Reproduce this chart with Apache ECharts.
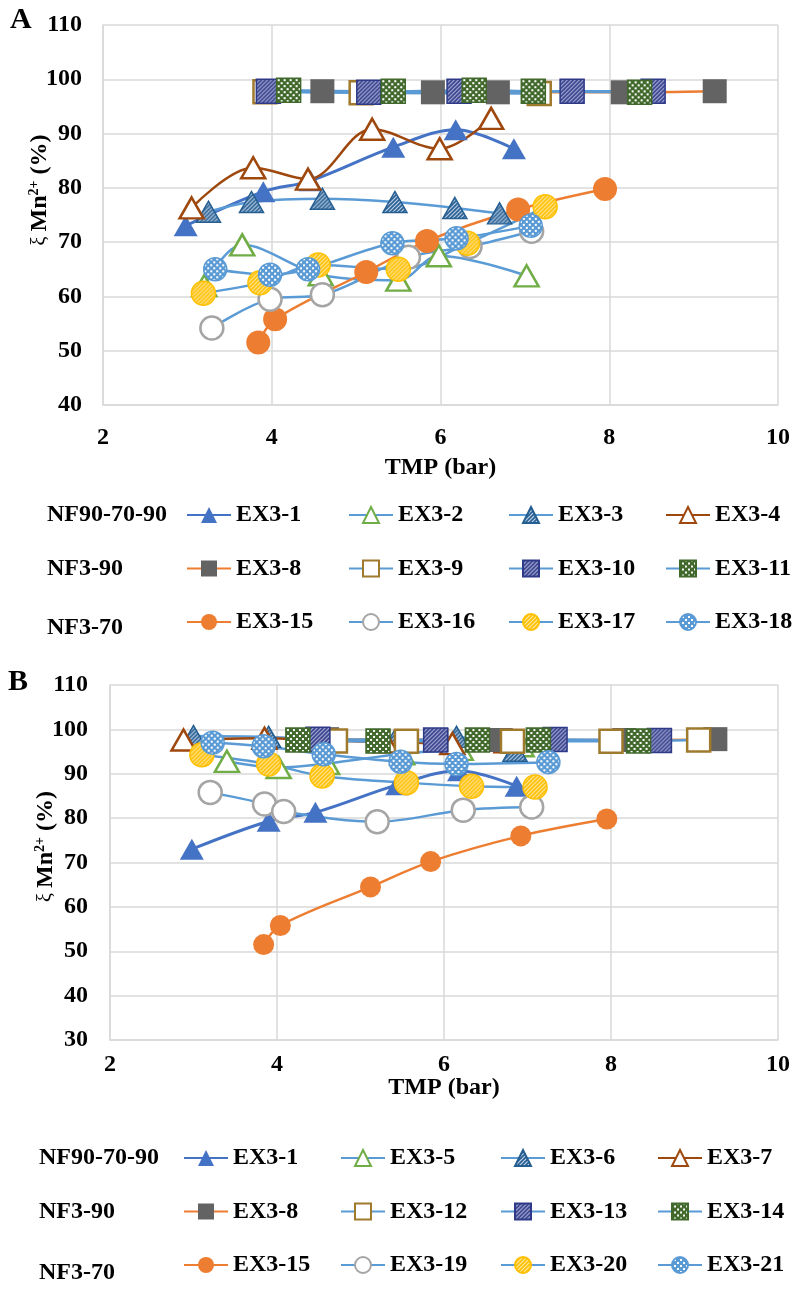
<!DOCTYPE html>
<html><head><meta charset="utf-8">
<script src="https://cdn.jsdelivr.net/npm/echarts@6/dist/echarts.min.js"></script>
<style>html,body{margin:0;padding:0;background:#fff}#c{width:805px;height:1297px}</style>
</head><body><div id="c"></div>
<script>
// ---------------- DATA (x = TMP in bar, y = ξ Mn2+ in %) ----------------
// shared series
const ex3_1_x  = [2.98, 3.90, 4.46, 5.44, 6.18, 6.87];
const ex3_1_y  = [73.0, 79.3, 81.3, 87.5, 90.7, 87.2];
const ex3_8_x  = [4.60, 5.91, 6.68, 8.16, 9.25];
const ex3_8_y  = [97.8, 97.6, 97.6, 97.6, 97.8];
const ex3_15_x = [3.84, 4.04, 5.12, 5.84, 6.92, 7.95];
const ex3_15_y = [51.5, 55.8, 64.5, 70.2, 76.0, 79.8];
// panel A
const ex3_2_x  = [3.20, 3.65, 4.58, 5.50, 5.98, 7.02];
const ex3_2_y  = [62.0, 69.5, 64.0, 63.0, 67.5, 63.8];
const ex3_3_x  = [3.25, 3.76, 4.60, 5.46, 6.17, 6.70];
const ex3_3_y  = [75.6, 77.4, 78.0, 77.4, 76.3, 75.3];
const ex3_4_x  = [3.05, 3.78, 4.43, 5.19, 5.99, 6.60];
const ex3_4_y  = [76.3, 83.7, 81.6, 90.8, 87.2, 92.8];
const ex3_9_x  = [3.92, 5.06, 7.17];
const ex3_9_y  = [97.7, 97.5, 97.4];
const ex3_10_x = [3.96, 5.15, 6.22, 7.56, 8.52];
const ex3_10_y = [97.8, 97.6, 97.8, 97.8, 97.8];
const ex3_11_x = [4.20, 5.44, 6.40, 7.10, 8.36];
const ex3_11_y = [98.0, 97.8, 98.0, 97.8, 97.6];
const ex3_16_x = [3.29, 3.98, 4.60, 5.62, 6.35, 7.08];
const ex3_16_y = [54.2, 59.5, 60.3, 67.2, 69.2, 72.0];
const ex3_17_x = [3.19, 3.86, 4.55, 5.50, 6.32, 7.24];
const ex3_17_y = [60.6, 62.5, 65.8, 65.0, 69.8, 76.5];
const ex3_18_x = [3.33, 3.98, 4.43, 5.43, 6.19, 7.07];
const ex3_18_y = [65.0, 64.0, 65.0, 69.8, 70.7, 73.0];
// panel B
const ex3_5_x  = [3.40, 4.02, 4.60, 5.50, 6.20, 6.93];
const ex3_5_y  = [92.8, 91.4, 92.3, 94.5, 95.5, 96.3];
const ex3_6_x  = [3.00, 3.90, 4.50, 5.40, 6.15, 6.85];
const ex3_6_y  = [98.5, 98.3, 97.8, 97.2, 98.3, 95.2];
const ex3_7_x  = [2.88, 3.85, 4.55, 5.30, 6.10, 6.75];
const ex3_7_y  = [97.6, 98.0, 97.5, 97.2, 96.8, 97.2];
const ex3_12_x = [4.70, 5.55, 6.82, 8.00, 9.05];
const ex3_12_y = [97.4, 97.3, 97.3, 97.3, 97.6];
const ex3_13_x = [4.49, 5.90, 7.33, 8.58];
const ex3_13_y = [97.8, 97.6, 97.7, 97.5];
const ex3_14_x = [4.25, 5.21, 6.40, 7.13, 8.33];
const ex3_14_y = [97.6, 97.4, 97.6, 97.6, 97.4];
const ex3_19_x = [3.20, 3.85, 4.08, 5.20, 6.23, 7.05];
const ex3_19_y = [85.8, 83.2, 81.5, 79.2, 81.8, 82.5];
const ex3_20_x = [3.10, 3.90, 4.54, 5.55, 6.33, 7.09];
const ex3_20_y = [94.3, 92.2, 89.5, 88.0, 87.2, 87.0];
const ex3_21_x = [3.23, 3.84, 4.56, 5.48, 6.15, 7.25];
const ex3_21_y = [97.0, 96.2, 94.4, 92.7, 92.2, 92.6];

const xTicks = {min: 2, max: 10, interval: 2};
const yTicksA = {min: 40, max: 110, interval: 10};
const yTicksB = {min: 30, max: 110, interval: 10};

const groupLabels = ['NF90-70-90', 'NF3-90', 'NF3-70'];
const legendColsA = [['EX3-1','EX3-8','EX3-15'], ['EX3-2','EX3-9','EX3-16'], ['EX3-3','EX3-10','EX3-17'], ['EX3-4','EX3-11','EX3-18']];
const legendColsB = [['EX3-1','EX3-8','EX3-15'], ['EX3-5','EX3-12','EX3-19'], ['EX3-6','EX3-13','EX3-20'], ['EX3-7','EX3-14','EX3-21']];

// ---------------- STYLES ----------------
const FONT = 'Liberation Serif';
const tileCache = {};
function tile(bg, fg, kind) {
  const key = bg + fg + kind;
  if (tileCache[key]) return tileCache[key];
  const c = document.createElement('canvas');
  const n = kind === 'dots' ? 6 : 4;
  c.width = c.height = n;
  const g = c.getContext('2d');
  g.fillStyle = bg; g.fillRect(0, 0, n, n);
  g.fillStyle = fg; g.strokeStyle = fg;
  if (kind === 'hatch') {
    g.lineWidth = 1.2;
    [[-1, n + 1, n + 1, -1], [-n - 1, n + 1, 1, -1], [n - 1, n + 1, 2 * n + 1, -1]].forEach(l => {
      g.beginPath(); g.moveTo(l[0], l[1]); g.lineTo(l[2], l[3]); g.stroke();
    });
  } else {
    g.fillRect(1, 1, 2, 2); g.fillRect(4, 4, 2, 2);
  }
  tileCache[key] = c;
  return c;
}
// pattern for a series symbol (symbol paths are drawn in a unit box scaled by size/2)
function patS(bg, fg, kind, size) {
  const s = Array.isArray(size) ? size : [size, size];
  return {image: tile(bg, fg, kind), repeat: 'repeat', scaleX: 2 / s[0], scaleY: 2 / s[1]};
}
function patL(bg, fg, kind) {
  return {image: tile(bg, fg, kind), repeat: 'repeat'};
}
const LB = '#5B9BD5';
const TRI = [24, 21];
function mk(symbol, size, fill, border, bw, line, lw) {
  // fill is either a colour string or [bg, fg, kind]
  const isPat = Array.isArray(fill);
  return {
    symbol: symbol, size: size, border: border, bw: bw, line: line, lw: lw,
    fill: isPat ? patS(fill[0], fill[1], fill[2], size) : fill,
    lfill: isPat ? patL(fill[0], fill[1], fill[2]) : fill
  };
}
const ST = {
  triFill:  mk('triangle', TRI, '#4472C4', '#4472C4', 0, '#4472C4', 3),
  triGreen: mk('triangle', TRI, '#ffffff', '#70AD47', 2.5, LB, 2.5),
  triHatch: mk('triangle', TRI, ['#255E91', '#C5D3EA', 'hatch'], '#255E91', 1.5, LB, 2.5),
  triBrown: mk('triangle', TRI, '#ffffff', '#9E480E', 2.5, '#9E480E', 2.5),
  sqGrey:   mk('rect', 24, '#636363', '#636363', 0, '#ED7D31', 2.5),
  sqGold:   mk('rect', 23, '#ffffff', '#A07A2C', 2.5, LB, 2.5),
  sqNavy:   mk('rect', 24, ['#2E3A87', '#B7B9DE', 'hatch'], '#2E3A87', 1.5, LB, 2.5),
  sqGreen:  mk('rect', 24, ['#41692C', '#ffffff', 'dots'], '#41692C', 1.5, LB, 2.5),
  ciOrange: mk('circle', 24, '#ED7D31', '#ED7D31', 0, '#ED7D31', 2.5),
  ciOrangeS: mk('circle', 21, '#ED7D31', '#ED7D31', 0, '#ED7D31', 2.5),
  ciGrey:   mk('circle', 23, '#ffffff', '#A5A5A5', 2.5, LB, 2.5),
  ciYellow: mk('circle', 24, ['#FFC000', '#FFE6A0', 'hatch'], '#FFC000', 1.5, LB, 2.5),
  ciBlue:   mk('circle', 23, ['#5B9BD5', '#ffffff', 'dots'], '#5B9BD5', 1.5, LB, 2.5)
};
const styleOf = {};

function S(name, xs, ys, gi, st) {
  styleOf[name] = st;
  return {
    type: 'line', name: name, xAxisIndex: gi, yAxisIndex: gi,
    data: xs.map((x, i) => [x, ys[i]]),
    smooth: 0.35, symbol: st.symbol, symbolSize: st.size, showAllSymbol: true,
    itemStyle: {color: st.fill, borderColor: st.border, borderWidth: st.bw},
    lineStyle: {color: st.line, width: st.lw},
    emphasis: {disabled: true}
  };
}

const series = [
  S('EX3-1', ex3_1_x, ex3_1_y, 0, ST.triFill),
  S('EX3-2', ex3_2_x, ex3_2_y, 0, ST.triGreen),
  S('EX3-3', ex3_3_x, ex3_3_y, 0, ST.triHatch),
  S('EX3-4', ex3_4_x, ex3_4_y, 0, ST.triBrown),
  S('EX3-8', ex3_8_x, ex3_8_y, 0, ST.sqGrey),
  S('EX3-9', ex3_9_x, ex3_9_y, 0, ST.sqGold),
  S('EX3-10', ex3_10_x, ex3_10_y, 0, ST.sqNavy),
  S('EX3-11', ex3_11_x, ex3_11_y, 0, ST.sqGreen),
  S('EX3-15', ex3_15_x, ex3_15_y, 0, ST.ciOrange),
  S('EX3-16', ex3_16_x, ex3_16_y, 0, ST.ciGrey),
  S('EX3-17', ex3_17_x, ex3_17_y, 0, ST.ciYellow),
  S('EX3-18', ex3_18_x, ex3_18_y, 0, ST.ciBlue),

  S('EX3-1', ex3_1_x, ex3_1_y, 1, ST.triFill),
  S('EX3-5', ex3_5_x, ex3_5_y, 1, ST.triGreen),
  S('EX3-6', ex3_6_x, ex3_6_y, 1, ST.triHatch),
  S('EX3-7', ex3_7_x, ex3_7_y, 1, ST.triBrown),
  S('EX3-8', ex3_8_x, ex3_8_y, 1, ST.sqGrey),
  S('EX3-12', ex3_12_x, ex3_12_y, 1, ST.sqGold),
  S('EX3-13', ex3_13_x, ex3_13_y, 1, ST.sqNavy),
  S('EX3-14', ex3_14_x, ex3_14_y, 1, ST.sqGreen),
  S('EX3-15', ex3_15_x, ex3_15_y, 1, ST.ciOrangeS),
  S('EX3-19', ex3_19_x, ex3_19_y, 1, ST.ciGrey),
  S('EX3-20', ex3_20_x, ex3_20_y, 1, ST.ciYellow),
  S('EX3-21', ex3_21_x, ex3_21_y, 1, ST.ciBlue)
];

const GRID = '#D9D9D9';
const tickFont = {fontFamily: FONT, fontSize: 24, fontWeight: 'bold', color: '#000'};
function xAx(gi, margin, nameGap) {
  return Object.assign({type: 'value', gridIndex: gi, name: 'TMP (bar)', nameLocation: 'middle', nameGap: nameGap,
    nameMoveOverlap: false,
    nameTextStyle: {fontFamily: FONT, fontSize: 24, fontWeight: 'bold', color: '#000'},
    axisLine: {show: true, lineStyle: {color: GRID, width: 1.5}}, axisTick: {show: false},
    splitLine: {show: true, lineStyle: {color: GRID, width: 1.5}},
    axisLabel: Object.assign({margin: margin}, tickFont)}, xTicks);
}
function yAx(gi, ticks, margin, nameGap, shift) {
  return Object.assign({type: 'value', gridIndex: gi,
    name: '{xi|ξ}{sp| }{b|Mn}{sup|2+}{b| (%)}', nameLocation: 'middle', nameGap: nameGap,
    nameMoveOverlap: false,
    nameTextStyle: {padding: [0, 0, 0, shift], rich: {
      xi: {fontFamily: FONT, fontSize: 20, color: '#000', lineHeight: 26},
      sp: {fontFamily: FONT, fontSize: 20, color: '#000', lineHeight: 26, width: 5},
      b: {fontFamily: FONT, fontSize: 24, fontWeight: 'bold', color: '#000', lineHeight: 26},
      sup: {fontFamily: FONT, fontSize: 14, fontWeight: 'bold', color: '#000', verticalAlign: 'top', lineHeight: 14}
    }},
    axisLine: {show: true, lineStyle: {color: GRID, width: 1.5}}, axisTick: {show: false},
    splitLine: {show: true, lineStyle: {color: GRID, width: 1.5}},
    axisLabel: Object.assign({margin: margin}, tickFont)}, ticks);
}

function legends(cols, lefts, top) {
  return cols.map((names, i) => ({
    orient: 'vertical', left: lefts[i], top: top, padding: 0,
    itemWidth: 44, itemHeight: 20, itemGap: 29.5, selectedMode: false,
    textStyle: {fontFamily: FONT, fontSize: 24, fontWeight: 'bold', color: '#000', lineHeight: 24},
    data: names.map(n => ({name: n, itemStyle: {color: styleOf[n].lfill}}))
  }));
}

function textEl(t, x, y, size) {
  return {type: 'text', x: x, y: y, style: {text: t, font: 'bold ' + size + 'px "' + FONT + '"', fill: '#000', textVerticalAlign: 'middle'}};
}

const chart = echarts.init(document.getElementById('c'), null, {renderer: 'canvas'});
chart.setOption({
  animation: false,
  backgroundColor: '#fff',
  grid: [
    {left: 103, top: 25, width: 675, height: 380},
    {left: 110, top: 685, width: 668, height: 355}
  ],
  xAxis: [xAx(0, 21, 51), xAx(1, 13, 36)],
  yAxis: [yAx(0, yTicksA, 21, 50, 50), yAx(1, yTicksB, 22, 51, 32)],
  legend: legends(legendColsA, [186, 348, 508, 665], 503).concat(legends(legendColsB, [183, 340, 500, 657], 1146)),
  graphic: [
    textEl('A', 10, 20, 30), textEl('B', 8, 682, 30),
    textEl(groupLabels[0], 47, 515, 24), textEl(groupLabels[1], 47, 569, 24), textEl(groupLabels[2], 47, 628, 24),
    textEl(groupLabels[0], 39, 1158, 24), textEl(groupLabels[1], 39, 1212, 24), textEl(groupLabels[2], 39, 1273, 24)
  ],
  series: series
});
</script>
</body></html>
